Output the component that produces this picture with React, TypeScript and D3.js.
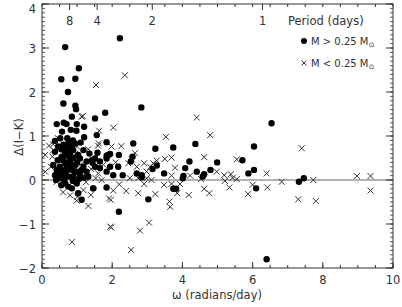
import React from "react";
import * as d3 from "d3";

const xDomain = [0, 10];
const yDomain = [-2, 4];
const xMajorTicks = [0, 2, 4, 6, 8, 10];
const yMajorTicks = [-2, -1, 0, 1, 2, 3, 4];
const periodTicks = [8, 4, 2, 1];

// M > 0.25 Msun : [omega, delta]
const massive: [number, number][] = [
  [0.66, 3.02], [2.22, 3.22], [1.05, 2.54], [0.55, 2.29], [0.95, 2.3], [0.74, 2.0],
  [0.61, 1.74], [0.95, 1.69], [0.97, 1.61], [2.83, 1.65], [0.85, 1.44], [1.51, 1.4], [1.8, 1.53],
  [0.42, 1.27], [0.62, 1.3], [0.7, 1.27], [0.99, 1.27], [0.57, 1.1], [0.82, 1.14], [1.2, 1.21],
  [0.98, 1.12], [1.56, 1.02], [1.2, 0.97], [1.84, 0.86], [0.37, 0.89],
  [6.54, 1.29], [4.37, 0.82], [2.6, 0.83], [3.74, 0.74], [3.23, 0.71], [6.04, 0.76], [5.71, 0.45],
  [4.99, 0.4], [4.2, 0.42], [4.08, 0.27], [4.8, 0.23], [6.04, 0.23], [5.88, 0.15], [4.41, 0.19],
  [3.48, 0.15], [3.27, 0.33], [3.15, 0.25], [4.03, 0.09], [4.01, 0.04], [7.46, 0.04], [7.32, -0.04],
  [6.1, -0.19], [3.74, -0.2], [3.82, -0.2], [3.03, -0.44],
  [1.94, 0.3], [1.84, 0.55], [1.94, 0.59], [2.19, 0.57], [2.58, 0.53], [2.53, 0.42], [2.7, 0.15],
  [2.84, 0.11], [2.3, 0.11], [1.46, -0.19], [1.84, -0.17], [1.44, 0.39], [4.62, 0.13], [4.58, 0.08],
  [2.84, 0.06], [2.19, -0.72], [6.4, -1.8], [2.03, 0.11], [2.17, 0.3],
  [0.37, 0.64], [0.46, 0.76], [0.61, 0.8], [0.75, 0.83], [0.85, 0.76], [0.94, 0.83], [0.56, 0.53],
  [0.7, 0.57], [0.8, 0.61], [0.89, 0.68], [1.03, 0.57], [1.18, 0.68], [1.08, 0.49], [0.66, 0.38],
  [0.8, 0.42], [0.94, 0.34], [0.51, 0.3], [0.7, 0.27], [0.85, 0.23], [0.99, 0.19], [0.42, 0.23],
  [0.61, 0.11], [0.75, 0.08], [0.89, 0.08], [1.08, 0.11], [1.18, 0.3], [1.27, 0.42], [1.42, 0.45],
  [1.51, 0.49], [1.65, 0.42], [1.84, 0.49], [1.89, 0.57], [1.51, 0.3], [1.27, 0.19], [1.65, 0.27],
  [1.84, 0.19], [1.32, 0.08], [0.37, 0.11], [0.51, 0.04], [0.32, 0.34],
  [0.75, -0.15], [0.85, -0.19], [1.03, -0.3], [1.13, -0.45], [1.46, -0.19], [0.66, -0.08], [0.99, -0.08],
  [0.55, 0.7], [0.65, 0.65], [0.72, 0.72], [0.78, 0.5], [0.9, 0.5], [0.6, 0.45], [0.5, 0.15],
  [0.92, 0.2], [1.12, 0.22], [0.68, 0.18], [0.78, 0.3], [0.58, 0.22], [1.0, 0.4], [0.45, 0.45],
  [0.88, -0.02], [0.63, 0.0], [1.2, 0.05], [0.72, 0.95], [0.88, 0.9], [0.52, 0.95], [1.1, 0.85],
  [1.35, 0.6], [1.58, 0.62], [0.4, 0.0], [0.55, -0.12], [1.05, 0.02],
];

// M < 0.25 Msun : [omega, delta]
const light: [number, number][] = [
  [1.54, 2.16], [2.36, 2.38], [1.16, 1.45], [2.03, 1.19], [1.63, 1.12], [4.41, 1.42], [3.53, 0.98],
  [4.79, 1.02], [7.4, 0.72], [0.32, 0.81], [0.32, 0.68], [0.3, 0.53], [0.09, 0.57], [0.09, 0.19],
  [1.32, 0.7], [1.62, 0.83], [2.26, 0.77], [2.65, 0.61], [1.98, 0.76], [2.56, 0.47], [4.62, 0.52],
  [5.55, 0.47], [3.5, 0.48], [3.69, 0.51], [3.27, 0.44], [3.17, 0.38], [3.79, 0.28], [3.08, 0.3],
  [4.98, 0.19], [6.4, 0.15], [5.38, 0.13], [5.19, 0.11], [5.43, 0.05], [4.22, 0.1], [3.69, 0.1],
  [3.93, -0.09], [4.53, 0.02], [5.55, 0.02], [5.21, -0.02], [2.98, 0.04], [2.91, -0.09], [3.48, -0.11],
  [3.69, -0.09], [5.34, -0.17], [6.0, -0.11], [6.42, -0.17], [4.62, -0.2], [4.77, -0.3], [3.85, -0.3],
  [4.18, -0.34], [3.23, -0.32], [5.87, -0.32], [3.63, -0.49], [3.65, -0.61],
  [0.99, -0.47], [1.32, -0.59], [1.96, -0.45], [0.85, -1.41], [1.97, -1.08], [1.95, -1.06], [2.79, -1.15],
  [3.05, -0.97], [2.54, -1.59], [7.3, -0.44], [7.8, -0.48], [6.83, -0.04], [8.97, 0.09], [9.36, 0.09],
  [9.36, -0.24], [7.73, 0.0], [2.46, 0.38], [2.7, 0.3], [2.91, 0.38], [2.98, 0.19], [1.53, 0.04],
  [1.7, 0.0], [1.18, -0.23], [1.39, -0.34], [1.01, -0.38], [2.03, -0.24], [1.91, -0.42], [2.74, -0.3],
  [0.42, -0.04], [2.5, 0.04], [2.74, 0.04], [3.12, 0.0], [1.13, 1.44], [1.6, 0.78], [1.0, 0.76],
  [0.2, 0.78], [0.25, 0.3], [0.45, 0.95], [0.95, 0.6], [1.1, 0.35], [1.4, 0.25], [1.25, -0.05],
  [0.6, -0.28], [0.8, -0.35], [1.6, 0.15], [1.75, 0.35], [2.1, 0.4], [2.2, -0.1], [2.4, -0.25],
];

const W = 402;
const H = 307;
const L = 42, R = 393, T = 4, B = 268;
const ink = "#333";
const font = "'DejaVu Sans', 'Liberation Sans', Arial, sans-serif";

export default function App() {
  const x = d3.scaleLinear().domain(xDomain).range([L, R]);
  const y = d3.scaleLinear().domain(yDomain).range([B, T]);
  const xMinor = d3.range(0, 10.001, 0.5);
  const yMinor = d3.range(-2, 4.001, 0.1);
  const cs = 3;

  return (
    <svg width={W} height={H} style={{ position: "absolute", left: 0, top: 0, background: "#fff" }}
      fontFamily={font}>
      {/* zero line */}
      <line x1={L} x2={R} y1={y(0)} y2={y(0)} stroke="#999" strokeWidth={1.5} />
      {/* frame */}
      <rect x={L} y={T} width={R - L} height={B - T} fill="none" stroke={ink} strokeWidth={1} />
      {/* bottom and top minor ticks */}
      {xMinor.map((v, i) => (
        <g key={"xm" + i}>
          <line x1={x(v)} x2={x(v)} y1={B} y2={B - 3} stroke={ink} />
          <line x1={x(v)} x2={x(v)} y1={T} y2={T + 3} stroke={ink} />
        </g>
      ))}
      {xMajorTicks.map((v) => (
        <g key={"xM" + v}>
          <line x1={x(v)} x2={x(v)} y1={B} y2={B - 6} stroke={ink} />
          <text x={x(v)} y={284} textAnchor="middle" fontSize={11.5} fill={ink}>{v}</text>
        </g>
      ))}
      {periodTicks.map((p) => (
        <g key={"p" + p}>
          <line x1={x((2 * Math.PI) / p)} x2={x((2 * Math.PI) / p)} y1={T} y2={T + 6} stroke={ink} />
          <text x={x((2 * Math.PI) / p)} y={25} textAnchor="middle" fontSize={11.5} fill={ink}>{p}</text>
        </g>
      ))}
      {yMinor.map((v, i) => (
        <g key={"ym" + i}>
          <line x1={L} x2={L + 3} y1={y(v)} y2={y(v)} stroke={ink} strokeWidth={0.8} />
          <line x1={R} x2={R - 3} y1={y(v)} y2={y(v)} stroke={ink} strokeWidth={0.8} />
        </g>
      ))}
      {yMajorTicks.map((v) => (
        <g key={"yM" + v}>
          <line x1={L} x2={L + 7} y1={y(v)} y2={y(v)} stroke={ink} />
          <line x1={R} x2={R - 7} y1={y(v)} y2={y(v)} stroke={ink} />
          <text x={36} y={Math.max(y(v) + 4.5, 13)} textAnchor="end" fontSize={11.5} fill={ink}>
            {v < 0 ? "\u2212" + Math.abs(v) : v}
          </text>
        </g>
      ))}
      {/* axis titles */}
      <text x={217} y={299} textAnchor="middle" fontSize={11.5} fill={ink}>ω (radians/day)</text>
      <text transform={`translate(23,137) rotate(-90)`} textAnchor="middle" fontSize={11.5} fill={ink}>
        Δ(I−K)
      </text>
      {/* data */}
      {light.map(([w, d], i) => (
        <g key={"l" + i} stroke={ink} strokeWidth={1}>
          <line x1={x(w) - cs} x2={x(w) + cs} y1={y(d) - cs} y2={y(d) + cs} />
          <line x1={x(w) - cs} x2={x(w) + cs} y1={y(d) + cs} y2={y(d) - cs} />
        </g>
      ))}
      {massive.map(([w, d], i) => (
        <circle key={"m" + i} cx={x(w)} cy={y(d)} r={3.2} fill="#000" />
      ))}
      {/* legend */}
      <text x={288} y={25} fontSize={11.5} fill={ink}>Period (days)</text>
      <circle cx={304} cy={41} r={3} fill="#000" />
      <text x={311} y={45} fontSize={10} fill={ink} style={{ whiteSpace: "pre" }}>
        {"M > 0.25 M"}<tspan fontSize={7} dy={2}>⊙</tspan>
      </text>
      <g stroke={ink} strokeWidth={1}>
        <line x1={301.5} x2={306.5} y1={60.5} y2={65.5} />
        <line x1={301.5} x2={306.5} y1={65.5} y2={60.5} />
      </g>
      <text x={311} y={67} fontSize={10} fill={ink} style={{ whiteSpace: "pre" }}>
        {"M < 0.25 M"}<tspan fontSize={7} dy={2}>⊙</tspan>
      </text>
    </svg>
  );
}
